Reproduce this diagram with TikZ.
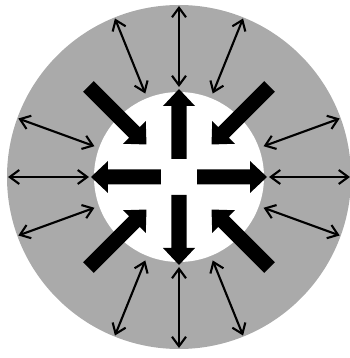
\documentclass[tikz,border=0pt]{standalone}
\usepackage{tikz}
\usetikzlibrary{arrows.meta}
\definecolor{ringgray}{RGB}{170,170,170}
\tikzset{
  annulus/.style={fill=ringgray,draw=none},
  hole/.style={fill=white,draw=none},
  thrust/.style={fill=black,draw=none},
  % thin two-way arrows crossing the grey ring
  dflow/.style={{Straight Barb[length=1.9mm,width=2.8mm]}-{Straight Barb[length=1.9mm,width=2.8mm]},line width=1.2pt,black},
}
\newcommand{\Positions}{%
  \coordinate (c) at (0,0);
  \coordinate (i1) at (0:90);    \coordinate (o1) at (0:171);
  \coordinate (i2) at (20:90);   \coordinate (o2) at (20:171);
  \coordinate (i3) at (68:90);   \coordinate (o3) at (68:171);
  \coordinate (i4) at (90:90);   \coordinate (o4) at (90:171);
  \coordinate (i5) at (112:90);  \coordinate (o5) at (112:171);
  \coordinate (i6) at (160:90);  \coordinate (o6) at (160:171);
  \coordinate (i7) at (180:90);  \coordinate (o7) at (180:171);
  \coordinate (i8) at (200:90);  \coordinate (o8) at (200:171);
  \coordinate (i9) at (248:90);  \coordinate (o9) at (248:171);
  \coordinate (i10) at (270:90); \coordinate (o10) at (270:171);
  \coordinate (i11) at (292:90); \coordinate (o11) at (292:171);
  \coordinate (i12) at (340:90); \coordinate (o12) at (340:171);
}
% block arrow along the rotated x axis: tail, head base, tip, angle
\newcommand{\Thrust}[4]{%
  \fill[thrust,rotate=#4] (#1,-7.5) -- (#2,-7.5) -- (#2,-16) -- (#3,0)
    -- (#2,16) -- (#2,7.5) -- (#1,7.5) -- cycle;
}

\begin{document}
\begin{tikzpicture}[x=0.02cm,y=0.02cm]
  \useasboundingbox (-179,-181) rectangle (170,177);
  \Positions
  \fill[annulus] (c) circle (172);
  \fill[hole] (c) circle (85);
  % outward arrows
  \Thrust{18}{71}{88}{0}
  \Thrust{18}{71}{88}{90}
  \Thrust{18}{71}{88}{180}
  \Thrust{18}{71}{88}{270}
  % inward arrows
  \Thrust{128}{63}{46}{45}
  \Thrust{128}{63}{46}{135}
  \Thrust{128}{63}{46}{225}
  \Thrust{128}{63}{46}{315}
  \draw[dflow] (i1)--(o1);   \draw[dflow] (i2)--(o2);   \draw[dflow] (i3)--(o3);
  \draw[dflow] (i4)--(o4);   \draw[dflow] (i5)--(o5);   \draw[dflow] (i6)--(o6);
  \draw[dflow] (i7)--(o7);   \draw[dflow] (i8)--(o8);   \draw[dflow] (i9)--(o9);
  \draw[dflow] (i10)--(o10); \draw[dflow] (i11)--(o11); \draw[dflow] (i12)--(o12);
\end{tikzpicture}
\end{document}
